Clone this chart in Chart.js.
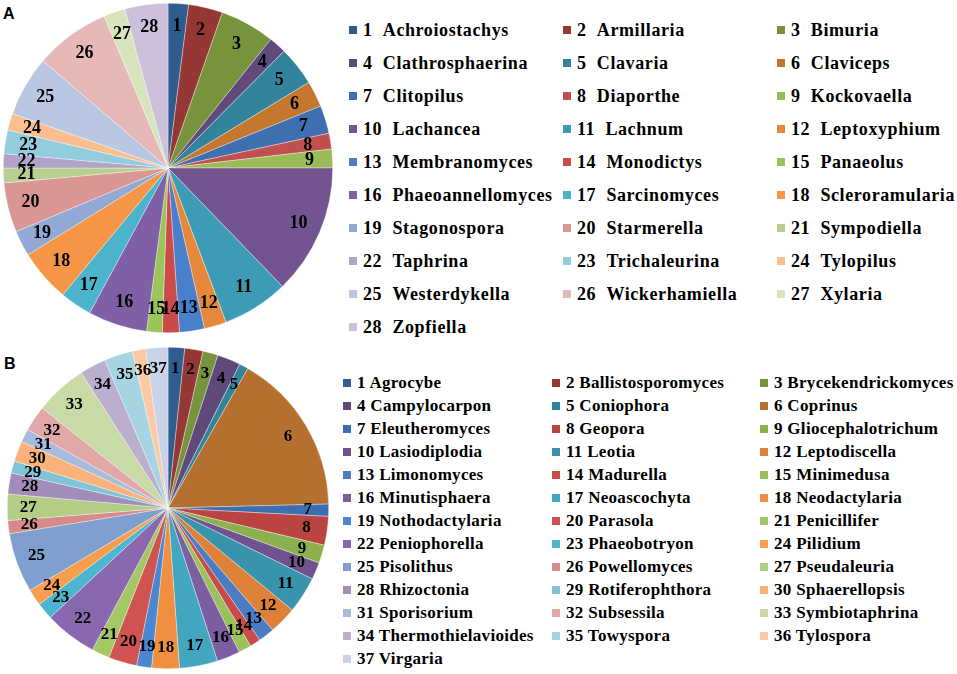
<!DOCTYPE html>
<html>
<head>
<meta charset="utf-8">
<script src="https://cdn.jsdelivr.net/npm/chart.js@4"></script>
<style>
  body { margin: 0; background: #fff; }
  #page { position: relative; width: 957px; height: 674px; overflow: hidden; }
  .panel { position: absolute; font-family: "Liberation Sans", Arial, sans-serif; font-weight: bold; font-size: 16px; }
  .chartBox { position: absolute; }
  .legItem { position: absolute; white-space: nowrap; font-family: "Times New Roman", "Liberation Serif", "DejaVu Serif", serif; font-weight: bold; color: #000; }
  .legItem i { position: absolute; left: 0; width: 8px; height: 8px; }
</style>
</head>
<body>
<div id="page">
  <div class="panel" style="left:3px; top:5px;">A</div>
  <div class="panel" style="left:4px; top:355px;">B</div>
  <div class="chartBox" style="left:3px; top:3px; width:330px; height:330px;"><canvas id="chartA"></canvas></div>
  <div class="chartBox" style="left:7px; top:347px; width:322px; height:322px;"><canvas id="chartB"></canvas></div>
  <div id="legendA"></div>
  <div id="legendB"></div>
</div>
<script>
// Panel A genera
const generaA = ['Achroiostachys', 'Armillaria', 'Bimuria', 'Clathrosphaerina', 'Clavaria', 'Claviceps',
    'Clitopilus', 'Diaporthe', 'Kockovaella', 'Lachancea', 'Lachnum', 'Leptoxyphium',
    'Membranomyces', 'Monodictys', 'Panaeolus', 'Phaeoannellomyces', 'Sarcinomyces', 'Scleroramularia',
    'Stagonospora', 'Starmerella', 'Sympodiella', 'Taphrina', 'Trichaleurina', 'Tylopilus',
    'Westerdykella', 'Wickerhamiella', 'Xylaria', 'Zopfiella'];
// slice sizes (degrees of the pie)
const valuesA = [7.2, 12.1, 19.3, 6.2, 13.9, 9.2, 9.9, 5.6, 6.6, 46.0, 23.4, 7.8, 8.8, 6.0,
    5.5, 20.9, 11.3, 18.5, 9.1, 17.5, 5.2, 5.0, 8.3, 6.0, 21.3, 26.6, 7.6, 15.2];

// Panel B genera
const generaB = ['Agrocybe', 'Ballistosporomyces', 'Brycekendrickomyces', 'Campylocarpon', 'Coniophora', 'Coprinus',
    'Eleutheromyces', 'Geopora', 'Gliocephalotrichum', 'Lasiodiplodia', 'Leotia', 'Leptodiscella',
    'Limonomyces', 'Madurella', 'Minimedusa', 'Minutisphaera', 'Neoascochyta', 'Neodactylaria',
    'Nothodactylaria', 'Parasola', 'Penicillifer', 'Peniophorella', 'Phaeobotryon', 'Pilidium',
    'Pisolithus', 'Powellomyces', 'Pseudaleuria', 'Rhizoctonia', 'Rotiferophthora', 'Sphaerellopsis',
    'Sporisorium', 'Subsessila', 'Symbiotaphrina', 'Thermothielavioides', 'Towyspora', 'Tylospora',
    'Virgaria'];
const valuesB = [6.0, 6.6, 5.5, 8.4, 3.3, 58.8, 4.4, 10.4, 6.6, 6.2, 13.2, 10.0, 5.8, 3.9,
    4.6, 8.4, 13.8, 10.0, 5.4, 10.3, 6.5, 19.0, 6.1, 6.0, 21.6, 4.7, 9.5, 7.6, 4.4, 7.4,
    4.8, 9.3, 18.8, 9.6, 10.3, 4.8, 8.0];

// colours (office style palette)
const paletteA = ['#2f5c8f', '#953735', '#77933c', '#604a7b', '#31849b', '#c4782f',
    '#3e6fb0', '#c0504d', '#9bbb59', '#725490', '#3e9bb5', '#e6883a',
    '#4a7fcb', '#cb4a4a', '#9bc45b', '#7f5fa5', '#4bb3cc', '#f79646',
    '#91a9d4', '#d99694', '#b8d08f', '#b3a2c7', '#93cddd', '#fabf8f',
    '#b9c7e3', '#e6b9b8', '#d7e4bd', '#ccc0da'];
const paletteB = ['#2f5d8f', '#953735', '#77933c', '#5f497a', '#31849b', '#b5702f',
    '#3d6fb0', '#b94441', '#8cb04c', '#6f528e', '#3a93ad', '#dd8038',
    '#4a7cc4', '#c94a48', '#9bc15a', '#7e5ea3', '#43a6c0', '#f08f3f',
    '#4b86d1', '#cf5350', '#a3c765', '#8a68b0', '#4db5d0', '#f99d4f',
    '#7f9fcf', '#d48b8a', '#b4cd86', '#a18cba', '#7fc4d6', '#fab27a',
    '#a9bbdd', '#e0a9a8', '#c8daa6', '#bcaecf', '#a6d4e0', '#fac9a5',
    '#c8d2e8'];

const serif = '"Times New Roman", "Liberation Serif", "DejaVu Serif", serif';

// Draw slice numbers inside each slice
const sliceLabels = {
    id: 'sliceLabels',
    afterDatasetsDraw(chart, args, opts) {
        const ctx = chart.ctx;
        const meta = chart.getDatasetMeta(0);
        ctx.save();
        ctx.font = opts.font;
        ctx.fillStyle = '#000';
        ctx.textAlign = 'center';
        ctx.textBaseline = 'middle';
        meta.data.forEach((arc, i) => {
            const p = arc.getProps(['x', 'y', 'startAngle', 'endAngle', 'outerRadius'], true);
            const mid = (p.startAngle + p.endAngle) / 2;
            const r = p.outerRadius * opts.dist;
            ctx.fillText(String(i + 1), p.x + Math.cos(mid) * r, p.y + Math.sin(mid) * r);
        });
        ctx.restore();
    }
};

function makePie(id, labels, values, colors, font, dist) {
    const ctx = document.getElementById(id).getContext('2d');
    return new Chart(ctx, {
        type: 'pie',
        data: {
            labels: labels,
            datasets: [{
                data: values,
                backgroundColor: colors,
                borderColor: 'rgba(255,255,255,0.6)',
                borderWidth: 0.6
            }]
        },
        options: {
            responsive: true,
            maintainAspectRatio: false,
            animation: false,
            layout: { padding: 0 },
            plugins: {
                legend: { display: false },
                tooltip: { enabled: false },
                sliceLabels: { font: font, dist: dist }
            }
        },
        plugins: [sliceLabels]
    });
}

makePie('chartA', generaA, valuesA, paletteA, 'bold 18px ' + serif, 0.86);
makePie('chartB', generaB, valuesB, paletteB, 'bold 17px ' + serif, 0.87);

// Legends: three columns, filled row by row
function buildLegend(elId, labels, colors, cols, top, rowH, fontSize, spacing, sep) {
    const el = document.getElementById(elId);
    let html = '';
    labels.forEach((name, i) => {
        const row = Math.floor(i / 3);
        const col = i % 3;
        const y = top + row * rowH;
        html += `
            <div class="legItem" style="left:${cols[col]}px; top:${y - 10}px; height:20px; line-height:20px; font-size:${fontSize}px; letter-spacing:${spacing}px; padding-left:14px;">
                <i style="top:6px; background:${colors[i]};"></i>${i + 1}${sep}${name}
            </div>`;
    });
    el.innerHTML = html;
}

buildLegend('legendA', generaA, paletteA, [349, 563, 777], 30, 33, 18, 0.6, '&nbsp;&nbsp;');
buildLegend('legendB', generaB, paletteB, [343, 552, 760], 383, 23, 17, 0.3, ' ');
</script>
</body>
</html>
